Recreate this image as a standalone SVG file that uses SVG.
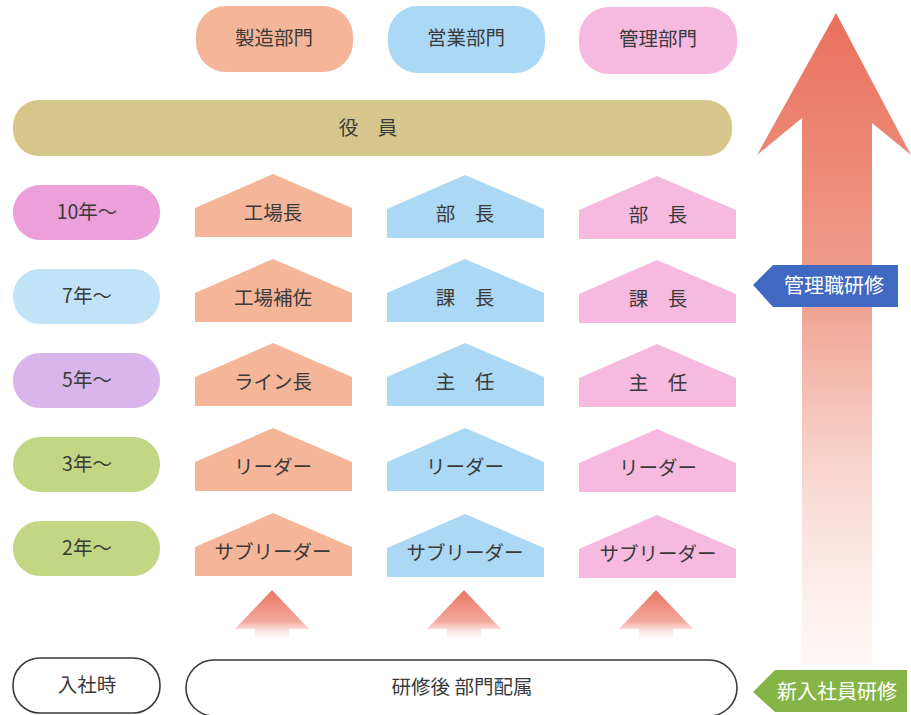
<svg xmlns="http://www.w3.org/2000/svg" width="911" height="715" viewBox="0 0 911 715">
<defs>
<style>
text{font-family:"Noto Sans CJK JP","Noto Sans",sans-serif;font-size:19.5px;fill:#3a3a3a;text-anchor:middle}
.org{fill:#f5b598}.blu{fill:#abd8f5}.pnk{fill:#f6b9df}
.lbl{fill:#fff;font-size:20px}
.out{fill:#fff;stroke:#3a3a3a;stroke-width:1.6}
</style>
<linearGradient id="bigG" x1="0" y1="0" x2="0" y2="1" gradientUnits="objectBoundingBox">
<stop offset="0" stop-color="#e9705c"/>
<stop offset="0.45" stop-color="#f0a292"/>
<stop offset="1" stop-color="#fbe6e2" stop-opacity="0.3"/>
</linearGradient>
<linearGradient id="smG" x1="0" y1="0" x2="0" y2="1">
<stop offset="0" stop-color="#ea7563"/>
<stop offset="0.6" stop-color="#f3aa9e"/>
<stop offset="1" stop-color="#fff" stop-opacity="0"/>
</linearGradient>
<polygon id="house" points="0,34 78,0 157,34 157,63 0,63"/>
<polygon id="sarrow" points="0,0 37,39 17,39 17,53 -17,53 -17,39 -37,39"/>
</defs>
<rect width="911" height="715" fill="#fff"/>

<g id="connectors">
<polygon points="836,13 911,155 872,123 872,665 802,665 802,118 757,155" fill="url(#bigG)"/>
<use href="#sarrow" x="272" y="590" fill="url(#smG)"/>
<use href="#sarrow" x="464" y="590" fill="url(#smG)"/>
<use href="#sarrow" x="656" y="590" fill="url(#smG)"/>
</g>

<g id="dept-seizo"><rect x="196" y="6" width="157" height="66" rx="30" class="org"/><text x="274" y="45">製造部門</text></g>
<g id="dept-eigyo"><rect x="388" y="6" width="157" height="67" rx="30" class="blu"/><text x="466" y="45">営業部門</text></g>
<g id="dept-kanri"><rect x="579" y="7" width="158" height="67" rx="30" class="pnk"/><text x="658" y="46">管理部門</text></g>

<g id="yakuin"><rect x="13" y="100" width="719" height="56" rx="26" fill="#d6c68c"/><text x="368" y="135">役　員</text></g>

<g id="y10"><rect x="13" y="185" width="147" height="55" rx="27" fill="#ec9fd9"/><text x="87" y="219">10年～</text></g>
<g id="y7"><rect x="13" y="269" width="147" height="55" rx="27" fill="#c0e3f8"/><text x="87" y="303">7年～</text></g>
<g id="y5"><rect x="13" y="353" width="147" height="55" rx="27" fill="#d8b5eb"/><text x="87" y="387">5年～</text></g>
<g id="y3"><rect x="13" y="437" width="147" height="55" rx="27" fill="#c3d683"/><text x="87" y="471">3年～</text></g>
<g id="y2"><rect x="13" y="521" width="147" height="55" rx="27" fill="#c3d683"/><text x="87" y="555">2年～</text></g>

<g id="s-10"><use href="#house" x="195" y="174" class="org"/><text x="273" y="220">工場長</text></g>
<g id="e-10"><use href="#house" x="387" y="175" class="blu"/><text x="465" y="221">部　長</text></g>
<g id="k-10"><use href="#house" x="579" y="176" class="pnk"/><text x="658" y="222">部　長</text></g>

<g id="s-7"><use href="#house" x="195" y="259" class="org"/><text x="273" y="305">工場補佐</text></g>
<g id="e-7"><use href="#house" x="387" y="259" class="blu"/><text x="465" y="305">課　長</text></g>
<g id="k-7"><use href="#house" x="579" y="260" class="pnk"/><text x="658" y="306">課　長</text></g>

<g id="s-5"><use href="#house" x="195" y="343" class="org"/><text x="273" y="389">ライン長</text></g>
<g id="e-5"><use href="#house" x="387" y="343" class="blu"/><text x="465" y="389">主　任</text></g>
<g id="k-5"><use href="#house" x="579" y="344" class="pnk"/><text x="658" y="390">主　任</text></g>

<g id="s-3"><use href="#house" x="195" y="428" class="org"/><text x="273" y="474">リーダー</text></g>
<g id="e-3"><use href="#house" x="387" y="428" class="blu"/><text x="465" y="474">リーダー</text></g>
<g id="k-3"><use href="#house" x="579" y="429" class="pnk"/><text x="658" y="475">リーダー</text></g>

<g id="s-2"><use href="#house" x="195" y="513" class="org"/><text x="273" y="559">サブリーダー</text></g>
<g id="e-2"><use href="#house" x="387" y="514" class="blu"/><text x="465" y="560">サブリーダー</text></g>
<g id="k-2"><use href="#house" x="579" y="515" class="pnk"/><text x="658" y="561">サブリーダー</text></g>

<g id="nyusha"><rect x="13" y="658" width="147" height="55" rx="27" class="out"/><text x="87" y="692">入社時</text></g>
<g id="haizoku"><rect x="186" y="660" width="551" height="56" rx="28" class="out"/><text x="462" y="694">研修後 部門配属</text></g>

<g id="kanrishoku"><polygon points="753,285 773,265 898,265 898,307 773,307" fill="#4169c2"/><text x="834" y="293" class="lbl">管理職研修</text></g>
<g id="shinnyu"><polygon points="753,692 775,670 907,670 907,712 775,712" fill="#86b446"/><text x="837" y="699" class="lbl">新入社員研修</text></g>
</svg>
